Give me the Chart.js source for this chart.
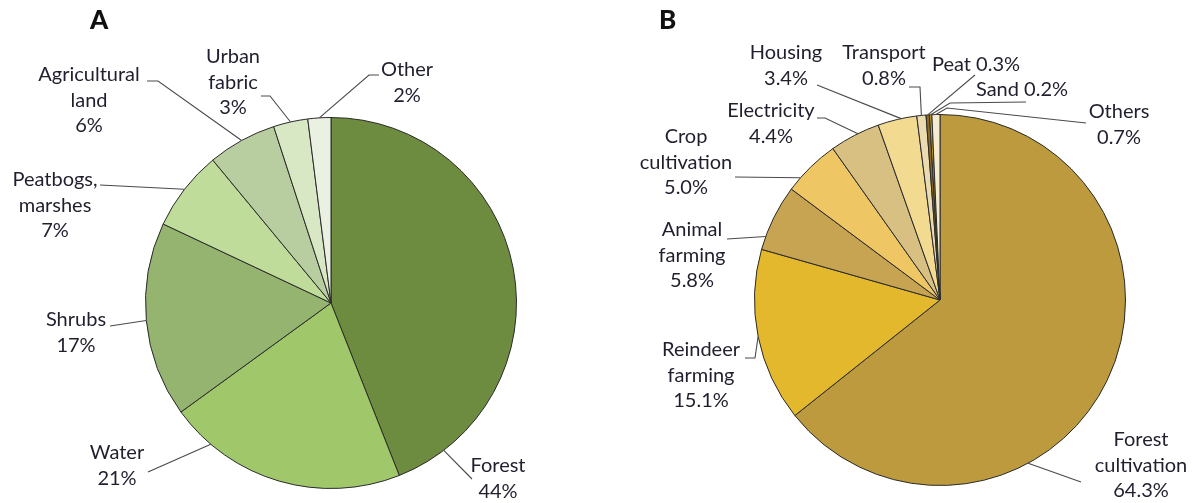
<!DOCTYPE html>
<html lang="en">
    <head>
        <meta charset="UTF-8" />
        <title>Land use pies</title>
        <style>
            body {
                margin: 0;
                background: #fff;
                font-family: Lato, sans-serif;
            }
            .wrap {
                position: relative;
                width: 1192px;
                height: 503px;
            }
            canvas {
                position: absolute;
                top: 0;
            }
            #pieA { left: 0; }
            #pieB { left: 596px; }
            .panel {
                position: absolute;
                top: 3px;
                font-weight: 900;
                font-size: 26px;
                color: #111;
            }
        </style>
    </head>
    <body>
        <div class="wrap">
            <canvas id="pieA" width="596" height="503"></canvas>
            <canvas id="pieB" width="596" height="503"></canvas>
            <div class="panel" style="left: 90px">A</div>
            <div class="panel" style="left: 659px">B</div>
        </div>

        <script src="https://cdn.jsdelivr.net/npm/chart.js"></script>
        <script>
            // Panel A - land cover (%)
            const categoriesA = [
                "Forest",
                "Water",
                "Shrubs",
                "Peatbogs,\nmarshes",
                "Agricultural\nland",
                "Urban\nfabric",
                "Other",
            ];
            const valuesA = [44, 21, 17, 7, 6, 3, 2];
            const colorsA = [
                "#6e8c3f",
                "#a0c86a",
                "#95b470",
                "#bfdc9b",
                "#b8cea0",
                "#d8e8c5",
                "#eaf1e3",
            ];

            // Panel B - land use (%)
            const categoriesB = [
                "Forest\ncultivation",
                "Reindeer\nfarming",
                "Animal\nfarming",
                "Crop\ncultivation",
                "Electricity",
                "Housing",
                "Transport",
                "Peat",
                "Sand",
                "Others",
            ];
            const valuesB = [64.3, 15.1, 5.8, 5.0, 4.4, 3.4, 0.8, 0.3, 0.2, 0.7];
            const colorsB = [
                "#bc9a3d",
                "#e4b82d",
                "#c6a452",
                "#eec764",
                "#d8c083",
                "#f3da91",
                "#eadbb0",
                "#8b6b1f",
                "#d4a32a",
                "#f5ebd0",
            ];

            // where each label sits (page coords) and how its leader line runs
            // t = where along the slice the line touches the rim (0..1)
            const layoutA = [
                { x: 498, y: 466, from: [472, 479], t: 0.9 },
                { x: 117, y: 453, from: [148, 472], t: 0.82 },
                { x: 76, y: 320, from: [110, 326], t: 0.5 },
                { x: 55, y: 180, from: [100, 185], t: 0.5 },
                { x: 89, y: 75, from: [147, 81], elbow: [158, 81], t: 0.5 },
                { x: 233, y: 57, from: [261, 96], elbow: [270, 96], t: 0.5 },
                { x: 407, y: 70, from: [379, 75], elbow: [369, 75], t: 0.5 },
            ];
            const layoutB = [
                { x: 1141, y: 440, from: [1081, 482], t: 0.655 },
                { x: 701, y: 350, from: [745, 358], elbow: [755, 358], t: 0.5 },
                { x: 692, y: 230, from: [727, 239], t: 0.2 },
                { x: 686, y: 137, from: [735, 177], t: 0.25 },
                { x: 771, y: 111, from: [817, 118], elbow: [825, 118], t: 0.57 },
                { x: 786, y: 53, from: [817, 85], t: 0.6 },
                { x: 884, y: 53, from: [909, 87], elbow: [920, 87], t: 0.5 },
                { x: 976, y: 65, inline: true, from: [975, 75], t: 0.5 },
                { x: 1022, y: 90, inline: true, from: [1026, 102], elbow: [950, 103], t: 0.5 },
                { x: 1119, y: 112, from: [1086, 123], elbow: [947, 108], t: 0.5 },
            ];

            const leaderLabels = {
                id: "leaderLabels",
                afterDatasetsDraw(chart, args, opts) {
                    const ctx = chart.ctx;
                    const arcs = chart.getDatasetMeta(0).data;
                    const values = chart.data.datasets[0].data;
                    const dx = opts.offsetX;
                    ctx.save();
                    opts.items.forEach((it, i) => {
                        const p = arcs[i].getProps(
                            ["x", "y", "startAngle", "endAngle", "outerRadius"],
                            true
                        );
                        const a = p.startAngle + it.t * (p.endAngle - p.startAngle);
                        const ex = p.x + Math.cos(a) * p.outerRadius;
                        const ey = p.y + Math.sin(a) * p.outerRadius;

                        // leader line
                        ctx.strokeStyle = "#4a4a4a";
                        ctx.lineWidth = 1.1;
                        ctx.beginPath();
                        ctx.moveTo(it.from[0] - dx, it.from[1]);
                        if (it.elbow) ctx.lineTo(it.elbow[0] - dx, it.elbow[1]);
                        ctx.lineTo(ex, ey);
                        ctx.stroke();

                        // text
                        const pct = values[i].toFixed(opts.decimals) + "%";
                        const name = chart.data.labels[i];
                        const lines = it.inline
                            ? [name + " " + pct]
                            : name.split("\n").concat(pct);
                        ctx.font = "20px Lato";
                        ctx.fillStyle = "#1f1f2e";
                        ctx.textAlign = "center";
                        ctx.textBaseline = "middle";
                        lines.forEach((ln, k) => {
                            ctx.fillText(ln, it.x - dx, it.y + k * 25.5);
                        });
                    });
                    ctx.restore();
                },
            };

            function makePie(id, labels, values, colors, layout, offsetX, decimals, padding) {
                return new Chart(document.getElementById(id), {
                    type: "pie",
                    data: {
                        labels: labels,
                        datasets: [
                            {
                                data: values,
                                backgroundColor: colors,
                                borderColor: "#2a2a2a",
                                borderWidth: 1,
                            },
                        ],
                    },
                    options: {
                        responsive: false,
                        animation: false,
                        layout: { padding: padding },
                        plugins: {
                            legend: { display: false },
                            tooltip: { enabled: false },
                            leaderLabels: {
                                items: layout,
                                offsetX: offsetX,
                                decimals: decimals,
                            },
                        },
                    },
                    plugins: [leaderLabels],
                });
            }

            makePie("pieA", categoriesA, valuesA, colorsA, layoutA, 0, 0,
                { left: 145, right: 79, top: 117, bottom: 14 });
            makePie("pieB", categoriesB, valuesB, colorsB, layoutB, 596, 1,
                { left: 158, right: 66, top: 114, bottom: 17 });
        </script>
    </body>
</html>
